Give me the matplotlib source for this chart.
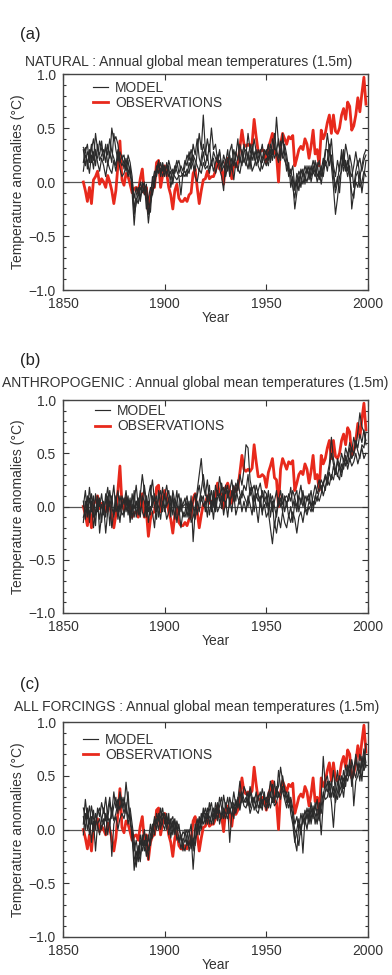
import numpy as np
import matplotlib
matplotlib.use("Agg")
import matplotlib.pyplot as plt

plt.rcParams['font.family'] = ['Liberation Sans', 'DejaVu Sans']

years = np.arange(1860, 2000)

# observed annual global mean anomalies (same series in every panel)
obs = [
    0.00, -0.08, -0.18, -0.05, -0.20, 0.02, 0.05, 0.10, -0.02, 0.03,
    0.00, -0.05, 0.06, 0.00, -0.08, -0.20, -0.08, 0.15, 0.38, 0.02,
    -0.03, 0.08, 0.05, -0.02, -0.10, -0.06, -0.05, -0.10, 0.03, 0.12,
    -0.10, -0.05, -0.28, -0.12, -0.06, -0.05, 0.18, 0.20, -0.05, 0.06,
    0.15, 0.08, -0.05, -0.12, -0.25, -0.08, -0.02, -0.15, -0.18, -0.18,
    -0.15, -0.18, -0.12, -0.10, 0.08, 0.12, -0.05, -0.20, -0.08, 0.02,
    0.03, 0.10, 0.03, 0.05, 0.05, 0.10, 0.22, 0.12, 0.12, -0.02,
    0.18, 0.22, 0.15, 0.03, 0.18, 0.14, 0.18, 0.32, 0.48, 0.35,
    0.33, 0.35, 0.33, 0.36, 0.58, 0.42, 0.28, 0.28, 0.30, 0.28,
    0.18, 0.32, 0.38, 0.45, 0.27, 0.25, 0.00, 0.35, 0.45, 0.40,
    0.35, 0.42, 0.40, 0.43, 0.15, 0.22, 0.30, 0.33, 0.30, 0.40,
    0.35, 0.22, 0.33, 0.48, 0.26, 0.30, 0.15, 0.48, 0.40, 0.45,
    0.55, 0.62, 0.45, 0.62, 0.47, 0.45, 0.50, 0.62, 0.68, 0.58,
    0.74, 0.70, 0.48, 0.52, 0.62, 0.78, 0.65, 0.82, 0.97, 0.72,
]

# NATURAL forcing ensemble
nat1 = [
    0.30, 0.15, 0.28, 0.22, 0.35, 0.20, 0.45, 0.30, 0.25, 0.38,
    0.20, 0.32, 0.25, 0.40, 0.28, 0.22, 0.15, 0.30, 0.18, 0.25,
    0.12, 0.22, 0.08, 0.15, -0.10, -0.40, -0.15, -0.20, -0.05, -0.10,
    -0.05, -0.15, -0.38, -0.20, -0.10, 0.05, 0.12, 0.18, 0.08, 0.15,
    0.05, 0.18, 0.10, 0.02, 0.12, 0.08, 0.15, 0.20, 0.10, 0.05,
    0.15, 0.25, 0.20, 0.30, 0.22, 0.10, 0.28, 0.45, 0.30, 0.62,
    0.30, 0.20, 0.35, 0.15, 0.28, 0.22, 0.18, 0.30, 0.12, 0.25,
    0.18, 0.30, 0.10, 0.22, 0.15, 0.28, 0.20, 0.35, 0.25, 0.18,
    0.25, 0.45, 0.30, 0.20, 0.28, 0.15, 0.22, 0.30, 0.18, 0.25,
    0.30, 0.20, 0.35, 0.25, 0.45, 0.30, 0.22, 0.38, 0.25, 0.20,
    0.15, 0.10, 0.05, -0.05, -0.15, 0.00, 0.10, 0.05, -0.02, 0.08,
    0.12, 0.05, 0.15, 0.08, 0.20, 0.05, 0.10, -0.02, 0.12, 0.25,
    0.45, 0.30, 0.20, 0.05, -0.10, 0.00, 0.15, 0.25, 0.10, 0.20,
    0.10, 0.25, 0.15, -0.05, 0.10, 0.20, 0.05, 0.15, 0.25, 0.30,
]
nat2 = [
    0.18, 0.32, 0.12, 0.30, 0.18, 0.28, 0.15, 0.35, 0.20, 0.25,
    0.30, 0.18, 0.35, 0.22, 0.50, 0.38, 0.42, 0.35, 0.20, 0.15,
    0.20, 0.10, 0.25, 0.18, 0.05, -0.25, -0.12, -0.05, -0.15, 0.00,
    -0.12, -0.05, -0.20, -0.28, 0.00, 0.10, 0.05, 0.15, 0.12, 0.05,
    0.12, 0.08, 0.15, -0.05, 0.05, 0.15, 0.10, 0.05, -0.12, 0.08,
    0.10, 0.05, 0.18, 0.12, 0.25, 0.20, 0.15, 0.10, 0.22, 0.35,
    0.25, 0.40, 0.28, 0.50, 0.30, 0.35, 0.20, 0.28, 0.15, 0.20,
    0.05, 0.15, 0.25, 0.12, 0.30, 0.20, 0.10, 0.22, 0.15, 0.28,
    0.30, 0.20, 0.35, 0.25, 0.40, 0.28, 0.18, 0.25, 0.35, 0.20,
    0.15, 0.28, 0.22, 0.40, 0.30, 0.60, 0.35, 0.28, 0.40, 0.30,
    0.20, 0.05, 0.12, 0.00, -0.25, -0.10, 0.05, -0.05, 0.10, 0.05,
    0.00, 0.10, 0.05, 0.15, 0.08, 0.18, 0.02, 0.10, 0.22, 0.15,
    0.20, 0.35, 0.15, -0.05, -0.30, -0.15, 0.05, 0.10, 0.25, 0.15,
    0.05, 0.15, -0.25, -0.10, 0.00, -0.05, 0.08, -0.10, 0.05, 0.20,
]
nat3 = [
    0.10, 0.25, 0.20, 0.08, 0.25, 0.12, 0.30, 0.18, 0.10, 0.22,
    0.15, 0.05, 0.18, 0.12, 0.08, 0.20, 0.10, 0.25, 0.12, 0.05,
    0.08, 0.15, 0.05, 0.12, -0.05, -0.30, -0.20, -0.10, -0.18, -0.05,
    0.00, -0.25, -0.15, -0.05, -0.12, 0.00, 0.15, 0.08, 0.18, 0.10,
    0.15, 0.05, 0.20, 0.12, 0.08, 0.05, 0.02, 0.06, 0.05, 0.08,
    0.05, 0.12, 0.08, 0.20, 0.15, 0.05, 0.00, 0.12, 0.08, 0.18,
    0.12, 0.15, 0.08, 0.20, 0.10, 0.18, 0.25, 0.12, 0.05, -0.08,
    0.20, 0.10, 0.28, 0.35, 0.15, 0.25, 0.40, 0.18, 0.30, 0.22,
    0.15, 0.28, 0.12, 0.35, 0.20, 0.30, 0.15, 0.10, 0.22, 0.30,
    0.25, 0.35, 0.18, 0.30, 0.22, 0.28, 0.40, 0.20, 0.45, 0.25,
    0.10, 0.18, -0.05, 0.05, -0.08, 0.08, 0.00, 0.12, 0.05, 0.15,
    0.08, 0.15, 0.00, 0.10, 0.05, 0.12, 0.20, 0.05, 0.15, 0.30,
    0.30, 0.15, 0.25, 0.10, -0.05, 0.05, -0.10, 0.15, 0.30, 0.10,
    0.20, 0.05, -0.10, -0.15, 0.05, 0.10, -0.05, 0.00, 0.10, 0.05,
]
nat4 = [
    0.32, 0.28, 0.35, 0.18, 0.30, 0.40, 0.25, 0.22, 0.38, 0.30,
    0.22, 0.35, 0.15, 0.28, 0.18, 0.45, 0.30, 0.20, 0.28, 0.22,
    0.25, 0.12, 0.20, 0.05, 0.02, -0.15, -0.05, -0.12, 0.00, -0.08,
    -0.08, -0.02, -0.30, -0.15, 0.05, -0.05, 0.10, 0.20, 0.05, 0.18,
    0.10, 0.15, 0.05, 0.10, -0.02, 0.12, 0.20, 0.08, 0.15, 0.10,
    0.20, 0.15, 0.28, 0.18, 0.35, 0.25, 0.40, 0.22, 0.15, 0.28,
    0.15, 0.25, 0.12, 0.18, 0.22, 0.08, 0.15, 0.20, 0.10, 0.15,
    0.10, 0.22, 0.05, 0.15, 0.02, 0.18, 0.12, 0.08, 0.20, 0.35,
    0.20, 0.12, 0.25, 0.10, 0.15, 0.22, 0.30, 0.20, 0.12, 0.18,
    0.22, 0.15, 0.30, 0.20, 0.35, 0.25, 0.18, 0.30, 0.22, 0.35,
    0.25, 0.12, 0.08, 0.15, -0.05, 0.02, -0.08, 0.08, 0.12, -0.02,
    0.15, 0.02, 0.10, 0.20, 0.12, 0.00, 0.08, 0.15, 0.05, 0.20,
    0.10, 0.25, 0.40, 0.15, 0.05, 0.20, 0.10, 0.30, 0.15, 0.35,
    0.25, 0.10, 0.05, 0.15, 0.28, 0.15, 0.22, 0.10, 0.20, 0.25,
]

# ANTHROPOGENIC forcing ensemble
ant1 = [
    -0.15, 0.05, -0.10, 0.08, -0.05, 0.10, -0.08, 0.05, -0.12, 0.02,
    -0.08, 0.12, -0.05, 0.15, 0.00, -0.10, 0.08, -0.05, 0.10, 0.00,
    0.08, -0.05, 0.05, -0.10, 0.12, -0.02, 0.05, -0.08, 0.10, 0.30,
    0.15, -0.05, 0.10, 0.20, 0.00, 0.12, -0.05, 0.08, 0.15, 0.00,
    0.10, 0.20, 0.05, -0.05, 0.08, 0.00, 0.15, -0.08, 0.05, -0.10,
    -0.05, 0.05, -0.12, 0.10, -0.33, -0.05, 0.15, 0.30, 0.45, 0.20,
    0.10, 0.25, 0.05, 0.15, 0.00, 0.20, 0.10, 0.28, 0.15, 0.05,
    0.20, 0.08, 0.15, 0.25, 0.10, 0.22, 0.15, 0.30, 0.20, 0.35,
    0.58, 0.55, 0.25, 0.15, 0.20, 0.08, 0.15, 0.22, 0.10, 0.05,
    0.10, 0.00, 0.12, -0.05, 0.05, 0.15, 0.00, 0.08, -0.05, 0.10,
    0.00, 0.12, 0.05, 0.15, 0.08, 0.00, 0.10, 0.20, 0.05, -0.02,
    0.10, 0.05, 0.15, 0.00, 0.08, 0.18, 0.25, 0.15, 0.22, 0.30,
    0.25, 0.35, 0.50, 0.40, 0.30, 0.45, 0.38, 0.50, 0.42, 0.55,
    0.48, 0.60, 0.52, 0.65, 0.55, 0.70, 0.88, 0.75, 0.70, 0.62,
]
ant2 = [
    0.00, 0.15, -0.05, 0.18, 0.00, -0.10, 0.12, -0.05, 0.08, -0.15,
    0.05, -0.10, 0.10, -0.18, 0.05, 0.20, -0.05, 0.00, -0.15, 0.05,
    -0.10, 0.10, -0.08, 0.05, -0.05, 0.15, -0.10, 0.08, -0.05, 0.05,
    0.20, 0.05, -0.05, 0.12, 0.25, 0.05, 0.10, -0.10, 0.05, 0.18,
    -0.05, 0.08, 0.15, 0.00, 0.10, -0.12, 0.05, 0.12, -0.05, 0.02,
    0.08, -0.10, 0.02, -0.05, 0.05, 0.12, -0.08, 0.05, 0.15, 0.30,
    0.15, 0.05, 0.20, -0.05, 0.10, 0.00, 0.15, 0.05, 0.22, 0.10,
    0.00, 0.15, 0.05, 0.10, 0.20, 0.05, 0.25, 0.12, 0.08, 0.20,
    0.15, 0.30, 0.10, 0.18, 0.05, 0.20, 0.12, 0.00, 0.15, 0.08,
    0.00, 0.15, -0.10, 0.05, -0.20, -0.05, 0.08, 0.00, 0.12, -0.05,
    0.05, -0.10, 0.00, -0.15, 0.05, -0.05, 0.10, 0.02, 0.15, 0.00,
    -0.05, 0.05, 0.00, -0.05, 0.10, 0.05, 0.15, 0.20, 0.10, 0.18,
    0.25, 0.20, 0.30, 0.25, 0.35, 0.28, 0.40, 0.32, 0.45, 0.38,
    0.50, 0.42, 0.55, 0.48, 0.60, 0.52, 0.45, 0.58, 0.55, 0.70,
]
ant3 = [
    -0.10, -0.05, 0.10, -0.15, 0.05, -0.20, -0.05, 0.08, -0.25, -0.08,
    0.00, -0.25, -0.05, 0.05, -0.20, -0.05, 0.10, -0.12, 0.02, -0.08,
    -0.05, 0.00, 0.10, -0.15, 0.02, -0.10, 0.05, -0.02, 0.15, -0.05,
    -0.10, 0.10, -0.15, 0.00, -0.05, -0.20, 0.05, 0.00, -0.12, 0.05,
    0.00, -0.12, -0.05, 0.10, -0.08, 0.05, -0.15, 0.00, -0.20, -0.05,
    -0.10, -0.02, 0.05, -0.15, -0.10, 0.00, 0.10, 0.20, 0.05, 0.10,
    -0.05, 0.10, -0.08, 0.05, -0.12, 0.08, -0.05, 0.00, 0.10, -0.08,
    0.05, -0.10, 0.08, -0.05, 0.12, -0.08, 0.00, 0.10, -0.05, 0.05,
    -0.05, 0.10, 0.02, -0.08, 0.10, 0.00, -0.15, 0.05, -0.05, 0.02,
    -0.10, -0.05, -0.20, -0.35, -0.15, -0.25, -0.10, -0.20, -0.05, -0.15,
    -0.20, -0.08, -0.15, -0.05, -0.12, -0.25, -0.10, -0.05, -0.15, -0.02,
    -0.08, 0.00, -0.05, 0.05, 0.02, 0.10, 0.05, 0.12, 0.22, 0.15,
    0.30, 0.40, 0.65, 0.45, 0.35, 0.30, 0.25, 0.40, 0.35, 0.48,
    0.40, 0.55, 0.45, 0.50, 0.62, 0.55, 0.68, 0.60, 0.72, 0.58,
]
ant4 = [
    0.05, -0.12, 0.02, -0.08, 0.12, 0.00, -0.18, 0.10, 0.00, 0.12,
    -0.05, 0.05, 0.18, 0.00, 0.10, -0.08, 0.05, 0.15, -0.05, 0.10,
    0.02, 0.15, -0.02, 0.08, -0.12, 0.05, 0.20, 0.00, -0.10, 0.10,
    0.05, -0.10, 0.05, -0.08, 0.10, 0.00, -0.12, 0.15, 0.02, -0.05,
    0.12, 0.00, 0.08, -0.10, 0.15, 0.05, 0.02, -0.05, 0.08, 0.00,
    0.02, 0.10, -0.05, 0.05, 0.00, -0.12, 0.05, -0.05, 0.10, 0.00,
    0.05, -0.10, 0.12, 0.00, 0.15, -0.05, 0.08, 0.12, -0.02, 0.18,
    0.12, 0.20, 0.00, 0.15, 0.05, 0.18, 0.08, 0.02, 0.15, 0.10,
    0.05, 0.00, 0.18, 0.10, -0.05, 0.12, 0.05, 0.10, -0.08, 0.15,
    0.12, -0.05, 0.05, 0.10, 0.00, -0.10, 0.05, 0.15, 0.02, 0.08,
    0.10, 0.05, 0.18, 0.00, 0.10, 0.15, -0.05, 0.08, 0.00, 0.10,
    0.05, 0.12, 0.00, 0.10, 0.20, 0.12, 0.18, 0.25, 0.20, 0.28,
    0.20, 0.32, 0.25, 0.38, 0.30, 0.42, 0.35, 0.28, 0.40, 0.45,
    0.35, 0.45, 0.38, 0.42, 0.50, 0.40, 0.48, 0.55, 0.45, 0.50,
]

# ALL FORCINGS ensemble
all1 = [
    0.05, 0.28, 0.10, 0.22, 0.05, 0.18, 0.00, 0.20, 0.12, 0.25,
    0.15, 0.30, 0.10, 0.25, 0.15, 0.35, 0.20, 0.28, 0.18, 0.30,
    0.20, 0.44, 0.25, 0.10, -0.05, -0.38, -0.20, -0.30, -0.10, -0.20,
    -0.10, -0.25, -0.05, -0.15, 0.00, 0.10, 0.05, 0.15, 0.00, 0.10,
    0.15, 0.05, 0.10, 0.00, 0.08, -0.05, 0.05, -0.12, -0.05, -0.15,
    -0.20, -0.10, -0.15, -0.05, -0.37, -0.10, 0.05, 0.00, 0.15, 0.05,
    0.10, 0.20, 0.05, 0.15, 0.08, 0.25, 0.15, 0.30, 0.20, 0.10,
    0.25, 0.15, 0.30, 0.20, 0.35, 0.22, 0.28, 0.45, 0.30, 0.25,
    0.30, 0.22, 0.35, 0.25, 0.30, 0.20, 0.28, 0.35, 0.22, 0.30,
    0.25, 0.35, 0.30, 0.42, 0.28, 0.35, 0.40, 0.58, 0.45, 0.35,
    0.25, 0.30, 0.20, 0.15, -0.10, -0.20, 0.05, 0.00, 0.10, 0.05,
    0.15, 0.05, 0.20, 0.10, 0.25, 0.15, 0.08, 0.30, 0.68, 0.40,
    0.35, 0.45, 0.30, 0.40, 0.25, 0.35, 0.50, 0.40, 0.55, 0.45,
    0.55, 0.60, 0.45, 0.50, 0.65, 0.55, 0.70, 0.60, 0.75, 0.62,
]
all2 = [
    0.20, 0.10, 0.15, -0.05, 0.12, -0.02, 0.15, 0.05, -0.05, 0.10,
    0.05, 0.15, -0.05, 0.10, -0.25, 0.05, 0.12, 0.00, 0.10, 0.15,
    0.10, 0.20, 0.05, 0.15, -0.10, -0.25, -0.35, -0.15, -0.25, -0.05,
    -0.20, -0.10, -0.28, -0.05, 0.05, -0.05, 0.15, 0.08, 0.20, 0.05,
    0.00, 0.12, 0.05, 0.10, -0.05, 0.08, 0.00, 0.05, -0.10, -0.02,
    -0.05, 0.00, -0.20, -0.12, -0.15, 0.05, -0.05, 0.10, 0.00, 0.12,
    0.20, 0.10, 0.25, 0.15, 0.05, 0.18, 0.10, 0.22, 0.30, 0.15,
    0.10, 0.20, -0.12, 0.15, 0.25, 0.18, 0.30, 0.20, 0.35, 0.28,
    0.25, 0.35, 0.20, 0.30, 0.18, 0.25, 0.32, 0.20, 0.28, 0.22,
    0.20, 0.30, 0.45, 0.35, 0.25, 0.40, 0.30, 0.35, 0.50, 0.38,
    0.30, 0.20, 0.28, 0.10, 0.00, -0.05, -0.15, 0.05, -0.22, 0.10,
    0.00, 0.15, 0.10, 0.22, 0.05, 0.18, 0.20, -0.05, 0.25, 0.35,
    0.45, 0.30, 0.40, 0.55, 0.35, 0.28, 0.40, 0.50, 0.38, 0.60,
    0.50, 0.65, 0.40, 0.55, 0.48, 0.60, 0.52, 0.68, 0.55, 0.80,
]
all3 = [
    -0.05, 0.15, 0.00, 0.10, -0.12, 0.08, -0.20, 0.05, 0.10, 0.00,
    0.10, -0.05, 0.12, 0.05, 0.20, 0.08, 0.15, 0.25, 0.32, 0.20,
    0.30, 0.15, 0.35, 0.05, 0.00, -0.20, -0.10, -0.25, -0.05, -0.15,
    0.00, -0.15, -0.10, 0.05, -0.08, 0.12, 0.00, 0.10, 0.05, 0.15,
    0.10, 0.00, 0.15, -0.08, 0.05, 0.10, -0.10, -0.05, -0.18, -0.08,
    -0.12, -0.05, 0.00, -0.18, -0.08, -0.15, 0.00, 0.12, 0.05, 0.20,
    0.05, 0.15, 0.12, 0.05, 0.20, 0.10, 0.25, 0.05, 0.15, 0.32,
    0.20, 0.30, 0.15, 0.25, 0.10, 0.28, 0.20, 0.35, 0.25, 0.40,
    0.35, 0.25, 0.40, 0.30, 0.25, 0.35, 0.20, 0.25, 0.38, 0.28,
    0.30, 0.20, 0.35, 0.25, 0.45, 0.30, 0.55, 0.40, 0.35, 0.28,
    0.20, 0.35, 0.15, 0.05, -0.12, 0.00, 0.10, -0.05, 0.15, 0.08,
    0.20, 0.10, 0.25, 0.12, 0.18, 0.28, 0.10, 0.22, 0.35, 0.28,
    0.30, 0.40, 0.25, 0.02, 0.30, 0.45, 0.35, 0.42, 0.30, 0.50,
    0.45, 0.55, 0.60, 0.22, 0.45, 0.50, 0.62, 0.45, 0.70, 0.58,
]
all4 = [
    0.12, 0.00, 0.20, 0.05, 0.22, 0.10, 0.05, 0.15, 0.20, 0.08,
    0.20, 0.08, 0.18, 0.30, 0.10, 0.22, 0.30, 0.15, 0.35, 0.25,
    0.15, 0.25, 0.10, 0.20, 0.05, -0.10, -0.30, -0.20, -0.30, -0.10,
    -0.15, -0.05, -0.20, -0.10, -0.02, 0.05, 0.10, 0.00, 0.12, 0.20,
    0.05, 0.15, -0.05, 0.08, 0.12, -0.02, 0.08, 0.00, -0.05, -0.20,
    0.00, -0.15, -0.05, 0.05, -0.20, 0.00, 0.10, -0.05, 0.08, 0.15,
    0.15, 0.05, 0.18, 0.25, 0.12, 0.20, 0.08, 0.18, 0.10, 0.20,
    0.15, 0.10, 0.20, 0.12, 0.22, 0.15, 0.25, 0.18, 0.30, 0.22,
    0.20, 0.28, 0.15, 0.22, 0.30, 0.18, 0.15, 0.25, 0.18, 0.35,
    0.18, 0.28, 0.20, 0.30, 0.22, 0.25, 0.35, 0.28, 0.40, 0.30,
    0.35, 0.25, 0.30, 0.20, 0.05, 0.12, 0.00, 0.15, 0.05, 0.18,
    0.10, 0.20, 0.05, 0.18, 0.15, 0.05, 0.25, 0.15, 0.30, 0.45,
    0.50, 0.38, 0.45, 0.30, 0.42, 0.55, 0.30, 0.35, 0.48, 0.40,
    0.60, 0.50, 0.65, 0.55, 0.70, 0.58, 0.45, 0.62, 0.55, 0.60,
]

panel_tags = ["(a)", "(b)", "(c)"]
panel_titles = [
    "NATURAL : Annual global mean temperatures (1.5m)",
    "ANTHROPOGENIC : Annual global mean temperatures (1.5m)",
    "ALL FORCINGS : Annual global mean temperatures (1.5m)",
]
ensembles = [[nat1, nat2, nat3, nat4],
             [ant1, ant2, ant3, ant4],
             [all1, all2, all3, all4]]

W, H = 392, 975
fig = plt.figure(figsize=(W / 100, H / 100), dpi=100)

# pixel layout of each panel: axes top, axes bottom, tag y, title y, title centre x,
# legend anchor (axes fractions)
layout = [
    (74, 290, 35, 62, 189, (0.098, 0.968)),
    (400, 613, 360, 383, 195, (0.105, 0.981)),
    (722, 937, 685, 707, 197, (0.066, 0.949)),
]
red = '#e8291c'
dark = '#2a2a2a'
txt = '#333333'
fs = 10

for i, (top, bot, ty, tty, tcx, lanchor) in enumerate(layout):
    ax = fig.add_axes([63 / W, 1 - bot / H, 305 / W, (bot - top) / H])
    ax.axhline(0, color='#555555', lw=0.9, zorder=1)
    ax.plot(years, obs, color=red, lw=2.0, zorder=2, label='OBSERVATIONS')
    for k, run in enumerate(ensembles[i]):
        ax.plot(years, run, color=dark, lw=0.85, zorder=3,
                label='MODEL' if k == 0 else None)
    ax.set_xlim(1850, 2000)
    ax.set_ylim(-1, 1)
    ax.set_xticks([1850, 1900, 1950, 2000])
    ax.set_yticks([-1.0, -0.5, 0.0, 0.5, 1.0])
    ax.set_yticklabels(['\u22121.0', '\u22120.5', '0.0', '0.5', '1.0'])
    ax.set_yticks(np.arange(-1, 1.01, 0.1), minor=True)
    ax.tick_params(which='both', direction='in', top=True, right=True,
                   labelsize=fs, colors=txt, width=0.8)
    ax.tick_params(which='major', length=4, pad=5)
    ax.tick_params(which='minor', length=2.5)
    for s in ax.spines.values():
        s.set_color('#444444')
        s.set_linewidth(1.0)
    ax.set_xlabel('Year', fontsize=fs, color=txt, labelpad=0)
    ax.set_ylabel('Temperature anomalies (\u00b0C)', fontsize=fs,
                  color=txt, labelpad=3)
    h, l = ax.get_legend_handles_labels()
    ax.legend([h[1], h[0]], [l[1], l[0]], loc='upper left',
              bbox_to_anchor=lanchor, frameon=False, fontsize=fs,
              handlelength=1.1, handletextpad=0.5, labelspacing=0.1,
              borderpad=0, borderaxespad=0, labelcolor=txt)
    fig.text(20 / W, 1 - ty / H, panel_tags[i], fontsize=12,
             va='center', ha='left', color='#222222')
    fig.text(tcx / W, 1 - tty / H, panel_titles[i], fontsize=fs,
             va='center', ha='center', color=txt)

fig.savefig('out.png', dpi=100)
